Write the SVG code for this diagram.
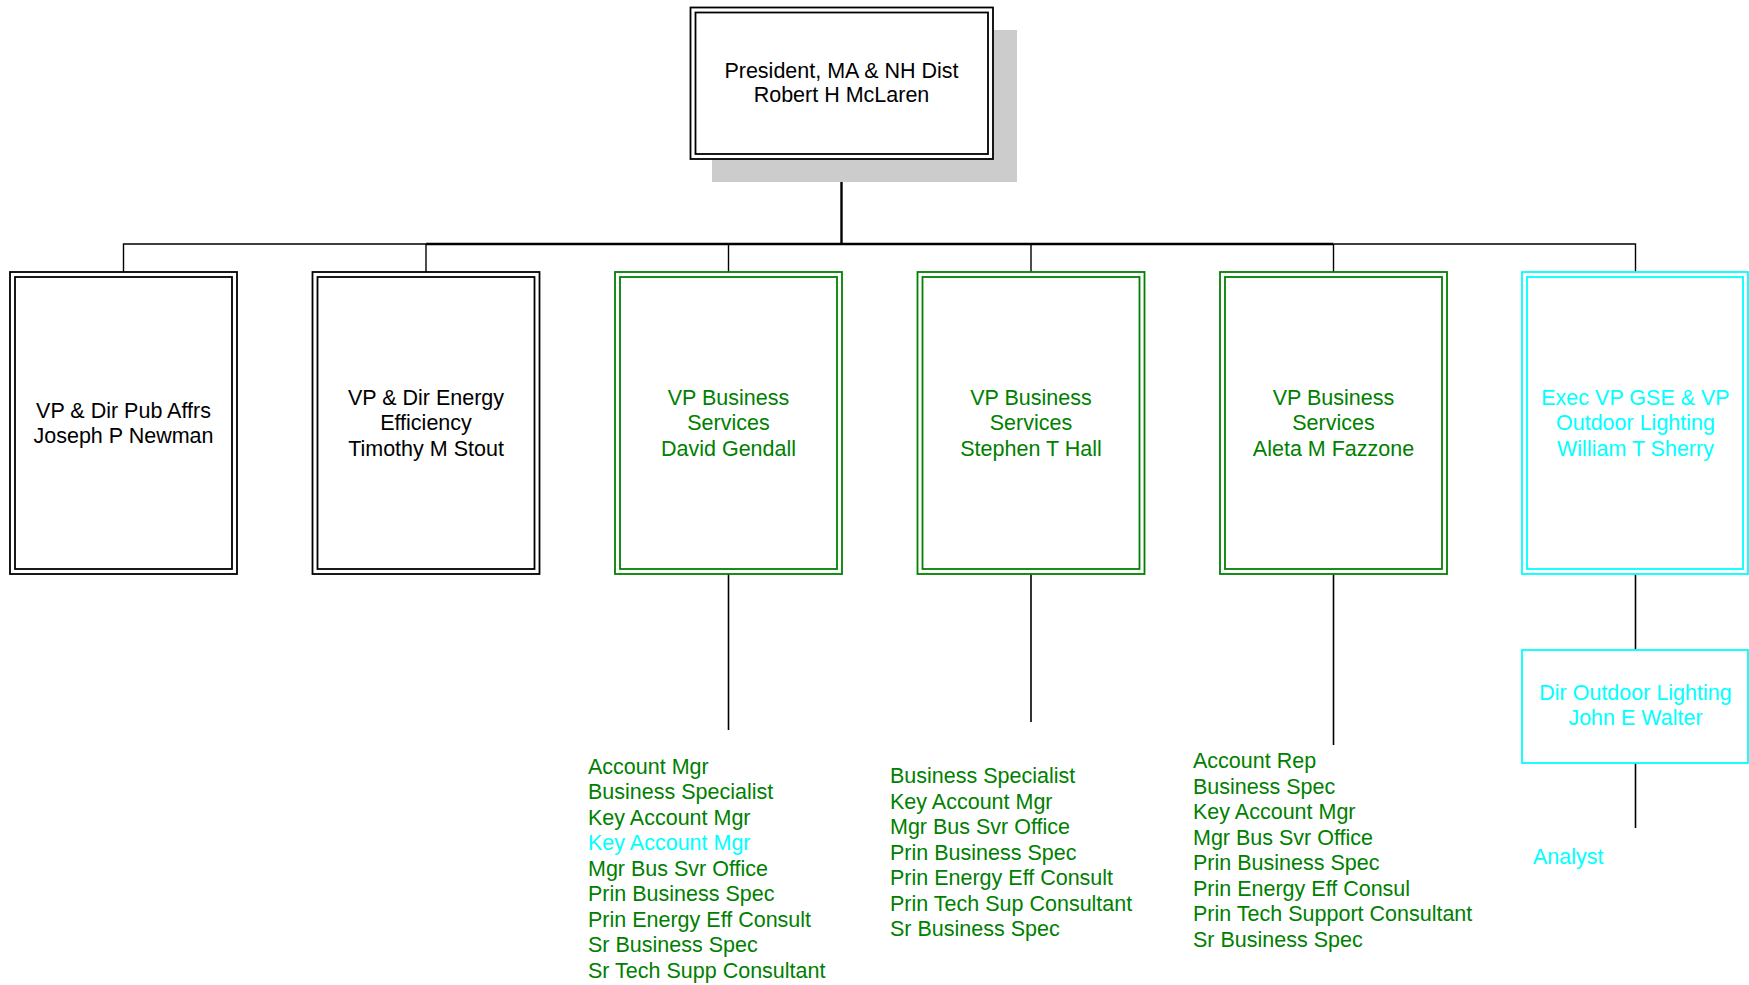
<svg xmlns="http://www.w3.org/2000/svg" width="1749" height="985" viewBox="0 0 1749 985">
<style>
text{font-family:"Liberation Sans",Arial,sans-serif;font-size:21.5px}
.c{text-anchor:middle}
.k{fill:#000}
.g{fill:#008000}
.y{fill:#00FFFF}
.bk{fill:none;stroke:#000;stroke-width:1.8}
.bg{fill:none;stroke:#008000;stroke-width:1.8}
.by{fill:none;stroke:#00FFFF;stroke-width:1.8}
.w{fill:#fff}
.ln{stroke:#000;fill:none}
</style>
<rect width="1749" height="985" fill="#fff"/>
<g id="connectors">
<line class="ln" x1="841.5" y1="159" x2="841.5" y2="244" stroke-width="2.4"/>
<line class="ln" x1="426" y1="244" x2="1333.5" y2="244" stroke-width="2.4"/>
<polyline class="ln" points="123.5,272 123.5,244 426,244" stroke-width="1.4"/>
<polyline class="ln" points="1333.5,244 1635.5,244 1635.5,272" stroke-width="1.4"/>
<line class="ln" x1="426" y1="244" x2="426" y2="272" stroke-width="1.4"/>
<line class="ln" x1="728.5" y1="244" x2="728.5" y2="272" stroke-width="1.4"/>
<line class="ln" x1="1031" y1="244" x2="1031" y2="272" stroke-width="1.4"/>
<line class="ln" x1="1333.5" y1="244" x2="1333.5" y2="272" stroke-width="1.4"/>
<line class="ln" x1="728.5" y1="574" x2="728.5" y2="730" stroke-width="1.6"/>
<line class="ln" x1="1031" y1="574" x2="1031" y2="722" stroke-width="1.6"/>
<line class="ln" x1="1333.5" y1="574" x2="1333.5" y2="745" stroke-width="1.6"/>
<line class="ln" x1="1635.5" y1="574" x2="1635.5" y2="650" stroke-width="1.6"/>
<line class="ln" x1="1635.5" y1="763" x2="1635.5" y2="828" stroke-width="1.6"/>
</g>
<g id="president">
<rect x="712" y="30" width="305" height="152" fill="#cccccc"/>
<rect x="690.5" y="7.5" width="302.5" height="151.5" class="w"/>
<rect x="690.5" y="7.5" width="302.5" height="151.5" class="bk"/>
<rect x="695.5" y="12.5" width="292.5" height="141.5" class="bk"/>
<text class="c k" x="841.5" y="77.5">President, MA &amp; NH Dist</text>
<text class="c k" x="841.5" y="102">Robert H McLaren</text>
</g>
<g id="pubaffrs">
<rect x="10" y="272" width="227" height="302" class="bk"/>
<rect x="15" y="277" width="217" height="292" class="bk"/>
<text class="c k" x="123.5" y="417.5">VP &amp; Dir Pub Affrs</text>
<text class="c k" x="123.5" y="443">Joseph P Newman</text>
</g>
<g id="energy">
<rect x="312.5" y="272" width="227" height="302" class="bk"/>
<rect x="317.5" y="277" width="217" height="292" class="bk"/>
<text class="c k" x="426" y="404.5">VP &amp; Dir Energy</text>
<text class="c k" x="426" y="430">Efficiency</text>
<text class="c k" x="426" y="455.5">Timothy M Stout</text>
</g>
<g id="gendall">
<rect x="615" y="272" width="227" height="302" class="bg"/>
<rect x="620" y="277" width="217" height="292" class="bg"/>
<text class="c g" x="728.5" y="404.5">VP Business</text>
<text class="c g" x="728.5" y="430">Services</text>
<text class="c g" x="728.5" y="455.5">David Gendall</text>
</g>
<g id="hall">
<rect x="917.5" y="272" width="227" height="302" class="bg"/>
<rect x="922.5" y="277" width="217" height="292" class="bg"/>
<text class="c g" x="1031" y="404.5">VP Business</text>
<text class="c g" x="1031" y="430">Services</text>
<text class="c g" x="1031" y="455.5">Stephen T Hall</text>
</g>
<g id="fazzone">
<rect x="1220" y="272" width="227" height="302" class="bg"/>
<rect x="1225" y="277" width="217" height="292" class="bg"/>
<text class="c g" x="1333.5" y="404.5">VP Business</text>
<text class="c g" x="1333.5" y="430">Services</text>
<text class="c g" x="1333.5" y="455.5">Aleta M Fazzone</text>
</g>
<g id="sherry">
<rect x="1522" y="272" width="226" height="302" class="by"/>
<rect x="1527" y="277" width="216" height="292" class="by"/>
<text class="c y" x="1635.5" y="404.5">Exec VP GSE &amp; VP</text>
<text class="c y" x="1635.5" y="430">Outdoor Lighting</text>
<text class="c y" x="1635.5" y="455.5">William T Sherry</text>
</g>
<g id="walter">
<rect x="1522" y="650" width="226" height="113" class="by"/>
<text class="c y" x="1635.5" y="699.5">Dir Outdoor Lighting</text>
<text class="c y" x="1635.5" y="725">John E Walter</text>
</g>
<g id="gendall-staff">
<text class="g" x="588" y="773.5">Account Mgr</text>
<text class="g" x="588" y="799">Business Specialist</text>
<text class="g" x="588" y="824.5">Key Account Mgr</text>
<text class="y" x="588" y="850">Key Account Mgr</text>
<text class="g" x="588" y="875.5">Mgr Bus Svr Office</text>
<text class="g" x="588" y="901">Prin Business Spec</text>
<text class="g" x="588" y="926.5">Prin Energy Eff Consult</text>
<text class="g" x="588" y="952">Sr Business Spec</text>
<text class="g" x="588" y="977.5">Sr Tech Supp Consultant</text>
</g>
<g id="hall-staff">
<text class="g" x="890" y="783">Business Specialist</text>
<text class="g" x="890" y="808.5">Key Account Mgr</text>
<text class="g" x="890" y="834">Mgr Bus Svr Office</text>
<text class="g" x="890" y="859.5">Prin Business Spec</text>
<text class="g" x="890" y="885">Prin Energy Eff Consult</text>
<text class="g" x="890" y="910.5">Prin Tech Sup Consultant</text>
<text class="g" x="890" y="936">Sr Business Spec</text>
</g>
<g id="fazzone-staff">
<text class="g" x="1193" y="768">Account Rep</text>
<text class="g" x="1193" y="793.5">Business Spec</text>
<text class="g" x="1193" y="819">Key Account Mgr</text>
<text class="g" x="1193" y="844.5">Mgr Bus Svr Office</text>
<text class="g" x="1193" y="870">Prin Business Spec</text>
<text class="g" x="1193" y="895.5">Prin Energy Eff Consul</text>
<text class="g" x="1193" y="921">Prin Tech Support Consultant</text>
<text class="g" x="1193" y="946.5">Sr Business Spec</text>
</g>
<g id="walter-staff">
<text class="y" x="1533" y="864">Analyst</text>
</g>
</svg>
